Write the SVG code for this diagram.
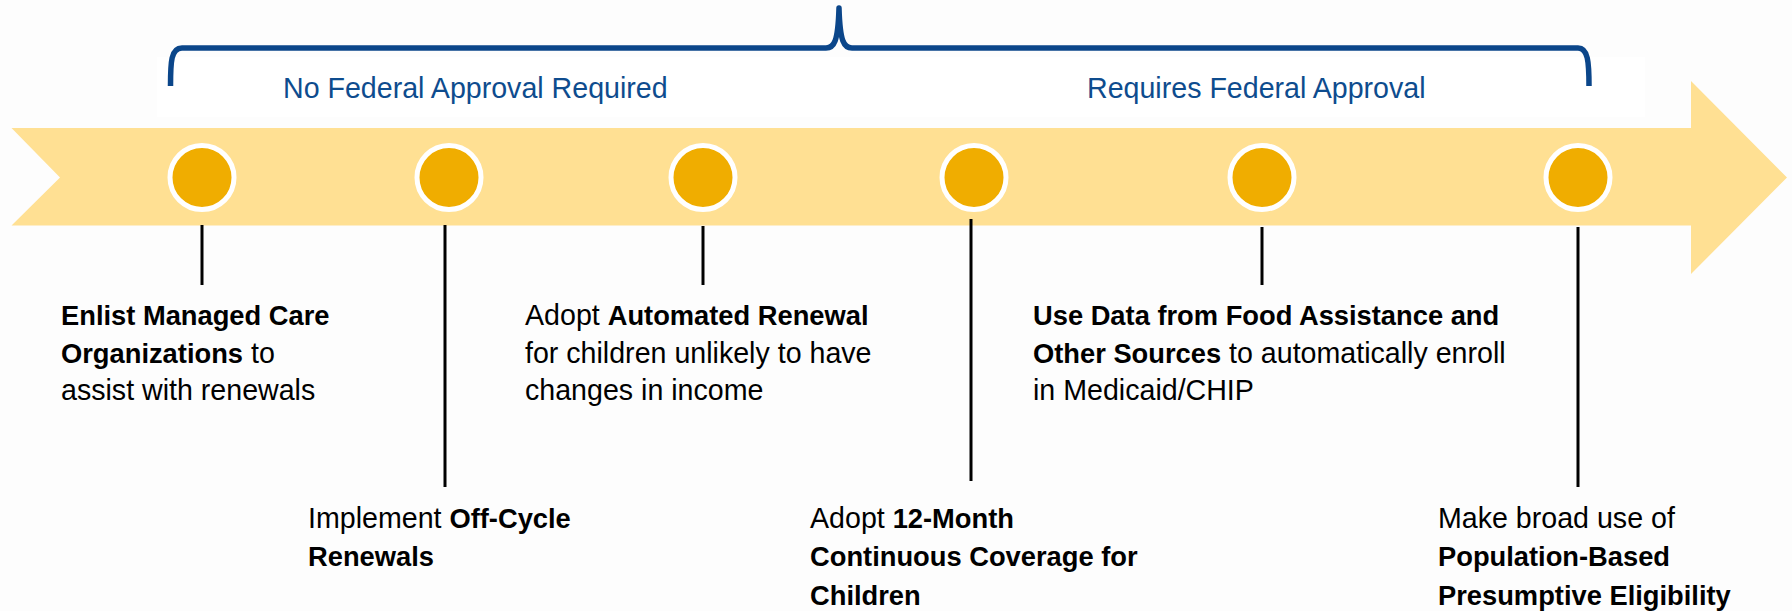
<svg xmlns="http://www.w3.org/2000/svg" width="1792" height="611" viewBox="0 0 1792 611">
  <style>
    .bg { fill: #FDFDFD; }
    .band { fill: #FFE093; }
    .dot { fill: #F0AD00; stroke: #FFFFFF; stroke-width: 5; }
    .tick { stroke: #000000; stroke-width: 3; fill: none; }
    .brace { stroke: #0B468A; stroke-width: 5.5; fill: none; stroke-linejoin: round; }
    .title { font-family: "Liberation Sans", Arial, sans-serif; font-size: 28.6px; fill: #0E4C8E; }
    .lbl { font-family: "Liberation Sans", Arial, sans-serif; font-size: 28.6px; fill: #000000; }
    .b { font-weight: bold; font-size: 27.3px; }
  </style>
  <rect class="bg" x="0" y="0" width="1792" height="611"/>
  <rect x="157" y="57" width="1488" height="60" fill="#FFFFFF"/>

  <g id="timeline-arrow">
    <polygon class="band" points="11.5,128 1691,128 1691,81 1787,177.5 1691,274 1691,225.5 11.5,225.5 60,177.5"/>
  </g>

  <g id="brace">
    <path class="brace" d="M170.5,86 C170.5,62 171,48 182,48 L826,48 C834,48 838,42 839,8 C840,42 844,48 852,48 L1578,48 C1588,48 1589,62 1589,86"/>
  </g>

  <g id="group-no-federal">
    <text class="title" x="283" y="97.7">No Federal Approval Required</text>
  </g>
  <g id="group-federal">
    <text class="title" x="1087" y="97.7">Requires Federal Approval</text>
  </g>

  <g id="connectors">
    <line class="tick" x1="202" y1="225" x2="202" y2="285"/>
    <line class="tick" x1="445" y1="225" x2="445" y2="487"/>
    <line class="tick" x1="703" y1="226" x2="703" y2="285"/>
    <line class="tick" x1="971" y1="219" x2="971" y2="481"/>
    <line class="tick" x1="1262" y1="227" x2="1262" y2="285"/>
    <line class="tick" x1="1578" y1="227" x2="1578" y2="487"/>
  </g>

  <g id="m1">
    <circle class="dot" cx="202" cy="177.5" r="32"/>
    <text class="lbl" x="61" y="325"><tspan class="b">Enlist Managed Care</tspan></text>
    <text class="lbl" x="61" y="362.5"><tspan class="b">Organizations</tspan> to</text>
    <text class="lbl" x="61" y="400">assist with renewals</text>
  </g>

  <g id="m2">
    <circle class="dot" cx="449" cy="177.5" r="32"/>
    <text class="lbl" x="308" y="527.7">Implement <tspan class="b">Off-Cycle</tspan></text>
    <text class="lbl" x="308" y="566"><tspan class="b">Renewals</tspan></text>
  </g>

  <g id="m3">
    <circle class="dot" cx="703" cy="177.5" r="32"/>
    <text class="lbl" x="525" y="325">Adopt <tspan class="b">Automated Renewal</tspan></text>
    <text class="lbl" x="525" y="362.5">for children unlikely to have</text>
    <text class="lbl" x="525" y="400">changes in income</text>
  </g>

  <g id="m4">
    <circle class="dot" cx="974" cy="177.5" r="32"/>
    <text class="lbl" x="810" y="527.7">Adopt <tspan class="b">12-Month</tspan></text>
    <text class="lbl" x="810" y="566"><tspan class="b">Continuous Coverage for</tspan></text>
    <text class="lbl" x="810" y="604.5"><tspan class="b">Children</tspan></text>
  </g>

  <g id="m5">
    <circle class="dot" cx="1262" cy="177.5" r="32"/>
    <text class="lbl" x="1033" y="325"><tspan class="b">Use Data from Food Assistance and</tspan></text>
    <text class="lbl" x="1033" y="362.5"><tspan class="b">Other Sources</tspan> to automatically enroll</text>
    <text class="lbl" x="1033" y="400">in Medicaid/CHIP</text>
  </g>

  <g id="m6">
    <circle class="dot" cx="1578" cy="177.5" r="32"/>
    <text class="lbl" x="1438" y="527.7">Make broad use of</text>
    <text class="lbl" x="1438" y="566"><tspan class="b">Population-Based</tspan></text>
    <text class="lbl" x="1438" y="604.5"><tspan class="b">Presumptive Eligibility</tspan></text>
  </g>
</svg>
